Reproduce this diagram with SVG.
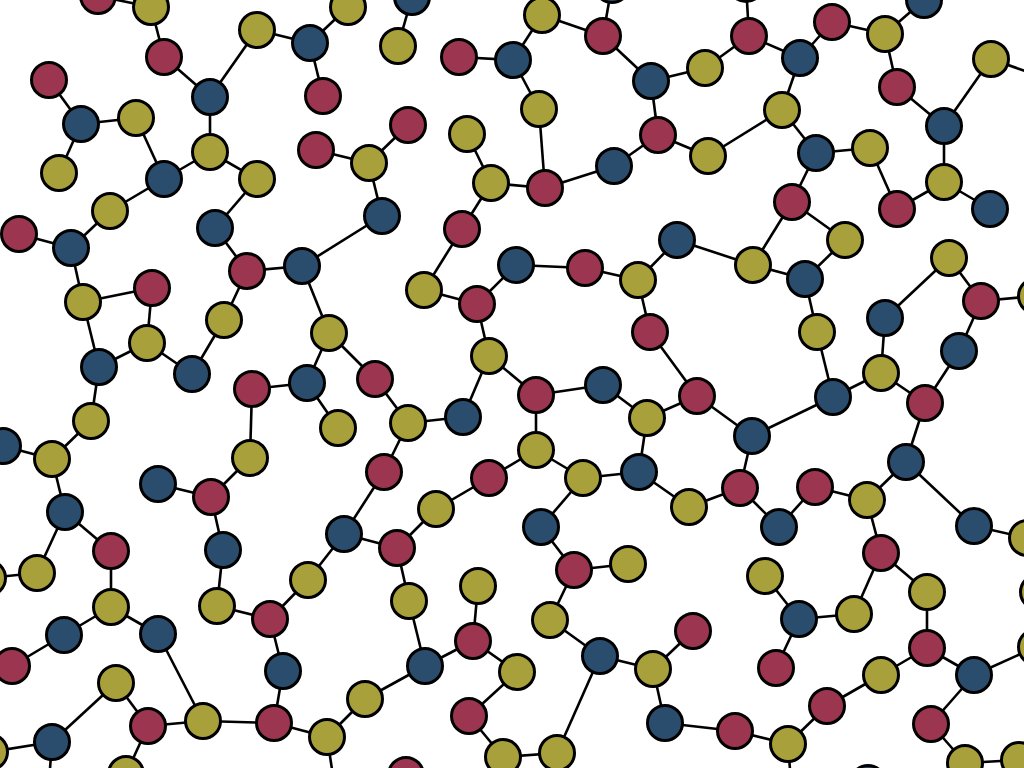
<svg xmlns="http://www.w3.org/2000/svg" width="1024" height="768" viewBox="0 0 1024 768">
<style>
.e line{stroke:#000;stroke-width:2.6;fill:none}
circle{r:17.5px;stroke:#000;stroke-width:3}
.r circle{fill:#9B3550}
.y circle{fill:#A8A03A}
.b circle{fill:#2A4D6E}
</style>
<rect width="1024" height="768" fill="#fff"/>
<g id="connectors" class="e">
<line x1="98" y1="-4" x2="151" y2="7"/><line x1="151" y1="7" x2="164" y2="57"/><line x1="164" y1="57" x2="210" y2="97"/><line x1="210" y1="97" x2="257" y2="30"/><line x1="210" y1="97" x2="210" y2="152"/>
<line x1="49" y1="80" x2="81" y2="124"/><line x1="81" y1="124" x2="136" y2="118"/><line x1="81" y1="124" x2="59" y2="173"/><line x1="136" y1="118" x2="164" y2="179"/><line x1="164" y1="179" x2="210" y2="152"/><line x1="210" y1="152" x2="257" y2="179"/><line x1="164" y1="179" x2="110" y2="211"/><line x1="110" y1="211" x2="71" y2="248"/><line x1="19" y1="234" x2="71" y2="248"/><line x1="257" y1="179" x2="215" y2="228"/><line x1="215" y1="228" x2="247" y2="271"/>
<line x1="257" y1="30" x2="310" y2="43"/><line x1="310" y1="43" x2="348" y2="7"/><line x1="310" y1="43" x2="323" y2="96"/><line x1="412" y1="-3" x2="398" y2="46"/><line x1="459" y1="57" x2="513" y2="60"/><line x1="316" y1="150" x2="369" y2="163"/><line x1="369" y1="163" x2="408" y2="125"/><line x1="369" y1="163" x2="382" y2="216"/><line x1="382" y1="216" x2="302" y2="266"/><line x1="467" y1="134" x2="491" y2="183"/><line x1="491" y1="183" x2="462" y2="229"/><line x1="462" y1="229" x2="424" y2="290"/>
<line x1="542" y1="15" x2="603" y2="36"/><line x1="603" y1="36" x2="612" y2="-15"/><line x1="542" y1="15" x2="513" y2="60"/><line x1="603" y1="36" x2="651" y2="81"/><line x1="513" y1="60" x2="539" y2="109"/><line x1="539" y1="109" x2="545" y2="188"/><line x1="545" y1="188" x2="491" y2="183"/><line x1="545" y1="188" x2="614" y2="166"/><line x1="614" y1="166" x2="658" y2="135"/><line x1="651" y1="81" x2="658" y2="135"/><line x1="651" y1="81" x2="705" y2="68"/><line x1="705" y1="68" x2="749" y2="36"/><line x1="749" y1="36" x2="746" y2="-16"/><line x1="658" y1="135" x2="708" y2="156"/><line x1="708" y1="156" x2="782" y2="110"/><line x1="677" y1="240" x2="753" y2="265"/><line x1="753" y1="265" x2="792" y2="202"/>
<line x1="749" y1="36" x2="800" y2="58"/><line x1="800" y1="58" x2="832" y2="22"/><line x1="832" y1="22" x2="885" y2="34"/><line x1="885" y1="34" x2="924" y2="0"/><line x1="885" y1="34" x2="897" y2="87"/><line x1="800" y1="58" x2="782" y2="110"/><line x1="897" y1="87" x2="944" y2="126"/><line x1="944" y1="126" x2="991" y2="59"/><line x1="991" y1="59" x2="1045" y2="78"/><line x1="782" y1="110" x2="816" y2="153"/><line x1="816" y1="153" x2="870" y2="148"/><line x1="870" y1="148" x2="897" y2="209"/><line x1="944" y1="126" x2="944" y2="182"/><line x1="944" y1="182" x2="897" y2="209"/><line x1="944" y1="182" x2="990" y2="209"/><line x1="816" y1="153" x2="792" y2="202"/><line x1="792" y1="202" x2="845" y2="240"/>
<line x1="71" y1="248" x2="83" y2="302"/><line x1="83" y1="302" x2="152" y2="288"/><line x1="152" y1="288" x2="147" y2="343"/><line x1="83" y1="302" x2="99" y2="367"/><line x1="99" y1="367" x2="147" y2="343"/><line x1="147" y1="343" x2="192" y2="374"/><line x1="192" y1="374" x2="224" y2="320"/><line x1="224" y1="320" x2="247" y2="271"/><line x1="99" y1="367" x2="91" y2="421"/><line x1="91" y1="421" x2="52" y2="459"/><line x1="3" y1="446" x2="52" y2="459"/><line x1="52" y1="459" x2="65" y2="512"/><line x1="252" y1="389" x2="250" y2="458"/><line x1="250" y1="458" x2="211" y2="497"/><line x1="158" y1="484" x2="211" y2="497"/>
<line x1="247" y1="271" x2="302" y2="266"/><line x1="302" y1="266" x2="329" y2="333"/><line x1="329" y1="333" x2="307" y2="383"/><line x1="329" y1="333" x2="375" y2="379"/><line x1="252" y1="389" x2="307" y2="383"/><line x1="307" y1="383" x2="338" y2="428"/><line x1="375" y1="379" x2="408" y2="423"/><line x1="408" y1="423" x2="463" y2="417"/><line x1="408" y1="423" x2="384" y2="472"/><line x1="384" y1="472" x2="344" y2="534"/><line x1="424" y1="290" x2="477" y2="304"/><line x1="477" y1="304" x2="516" y2="265"/><line x1="477" y1="304" x2="489" y2="356"/><line x1="489" y1="356" x2="463" y2="417"/><line x1="489" y1="356" x2="536" y2="395"/><line x1="489" y1="478" x2="436" y2="509"/>
<line x1="516" y1="265" x2="585" y2="268"/><line x1="585" y1="268" x2="638" y2="280"/><line x1="638" y1="280" x2="677" y2="240"/><line x1="638" y1="280" x2="650" y2="332"/><line x1="650" y1="332" x2="697" y2="396"/><line x1="536" y1="395" x2="603" y2="385"/><line x1="603" y1="385" x2="647" y2="418"/><line x1="647" y1="418" x2="697" y2="396"/><line x1="697" y1="396" x2="752" y2="436"/><line x1="536" y1="395" x2="536" y2="450"/><line x1="536" y1="450" x2="583" y2="478"/><line x1="536" y1="450" x2="489" y2="478"/><line x1="583" y1="478" x2="639" y2="472"/><line x1="647" y1="418" x2="639" y2="472"/><line x1="639" y1="472" x2="689" y2="507"/><line x1="689" y1="507" x2="740" y2="488"/><line x1="752" y1="436" x2="740" y2="488"/><line x1="740" y1="488" x2="779" y2="527"/><line x1="583" y1="478" x2="541" y2="527"/>
<line x1="753" y1="265" x2="805" y2="279"/><line x1="805" y1="279" x2="845" y2="240"/><line x1="805" y1="279" x2="817" y2="332"/><line x1="817" y1="332" x2="833" y2="397"/><line x1="833" y1="397" x2="752" y2="436"/><line x1="833" y1="397" x2="881" y2="373"/><line x1="885" y1="318" x2="881" y2="373"/><line x1="881" y1="373" x2="925" y2="403"/><line x1="885" y1="318" x2="949" y2="258"/><line x1="949" y1="258" x2="981" y2="301"/><line x1="981" y1="301" x2="1036" y2="296"/><line x1="981" y1="301" x2="959" y2="351"/><line x1="959" y1="351" x2="925" y2="403"/><line x1="925" y1="403" x2="906" y2="462"/><line x1="906" y1="462" x2="867" y2="500"/><line x1="815" y1="487" x2="867" y2="500"/><line x1="906" y1="462" x2="974" y2="526"/><line x1="815" y1="487" x2="779" y2="527"/>
<line x1="65" y1="512" x2="37" y2="573"/><line x1="65" y1="512" x2="111" y2="551"/><line x1="37" y1="573" x2="-12" y2="578"/><line x1="111" y1="551" x2="111" y2="607"/><line x1="111" y1="607" x2="64" y2="635"/><line x1="111" y1="607" x2="158" y2="634"/><line x1="64" y1="635" x2="12" y2="666"/><line x1="158" y1="634" x2="203" y2="721"/><line x1="116" y1="683" x2="52" y2="742"/><line x1="116" y1="683" x2="148" y2="726"/><line x1="148" y1="726" x2="203" y2="721"/><line x1="148" y1="726" x2="126" y2="774"/><line x1="211" y1="497" x2="223" y2="550"/><line x1="223" y1="550" x2="217" y2="606"/><line x1="217" y1="606" x2="270" y2="619"/><line x1="203" y1="721" x2="274" y2="723"/><line x1="52" y1="742" x2="-10" y2="752"/><line x1="52" y1="742" x2="48" y2="795"/>
<line x1="344" y1="534" x2="397" y2="548"/><line x1="397" y1="548" x2="436" y2="509"/><line x1="344" y1="534" x2="308" y2="580"/><line x1="308" y1="580" x2="270" y2="619"/><line x1="270" y1="619" x2="283" y2="671"/><line x1="283" y1="671" x2="274" y2="723"/><line x1="274" y1="723" x2="327" y2="737"/><line x1="327" y1="737" x2="365" y2="699"/><line x1="365" y1="699" x2="425" y2="666"/><line x1="397" y1="548" x2="409" y2="601"/><line x1="409" y1="601" x2="425" y2="666"/><line x1="425" y1="666" x2="473" y2="641"/><line x1="478" y1="586" x2="473" y2="641"/><line x1="473" y1="641" x2="517" y2="672"/><line x1="517" y1="672" x2="469" y2="716"/><line x1="469" y1="716" x2="503" y2="757"/><line x1="327" y1="737" x2="336" y2="795"/>
<line x1="541" y1="527" x2="574" y2="570"/><line x1="574" y1="570" x2="628" y2="564"/><line x1="574" y1="570" x2="550" y2="620"/><line x1="550" y1="620" x2="600" y2="656"/><line x1="600" y1="656" x2="653" y2="669"/><line x1="653" y1="669" x2="693" y2="631"/><line x1="653" y1="669" x2="665" y2="723"/><line x1="665" y1="723" x2="735" y2="731"/><line x1="735" y1="731" x2="788" y2="744"/><line x1="600" y1="656" x2="557" y2="753"/><line x1="557" y1="753" x2="503" y2="757"/>
<line x1="867" y1="500" x2="881" y2="553"/><line x1="881" y1="553" x2="854" y2="614"/><line x1="881" y1="553" x2="927" y2="592"/><line x1="927" y1="592" x2="927" y2="648"/><line x1="927" y1="648" x2="881" y2="675"/><line x1="881" y1="675" x2="827" y2="706"/><line x1="827" y1="706" x2="788" y2="744"/><line x1="927" y1="648" x2="974" y2="675"/><line x1="974" y1="675" x2="1036" y2="647"/><line x1="974" y1="675" x2="931" y2="724"/><line x1="931" y1="724" x2="965" y2="763"/><line x1="965" y1="763" x2="1019" y2="760"/><line x1="765" y1="576" x2="799" y2="619"/><line x1="799" y1="619" x2="854" y2="614"/><line x1="799" y1="619" x2="776" y2="668"/><line x1="974" y1="526" x2="1027" y2="538"/><line x1="788" y1="744" x2="792" y2="795"/>
</g>
<g id="n1" class="r"><circle cx="98" cy="-4"/></g>
<g id="n2" class="y"><circle cx="151" cy="7"/></g>
<g id="n3" class="r"><circle cx="164" cy="57"/></g>
<g id="n4" class="b"><circle cx="210" cy="97"/></g>
<g id="n5" class="y"><circle cx="257" cy="30"/></g>
<g id="n6" class="r"><circle cx="49" cy="80"/></g>
<g id="n7" class="b"><circle cx="81" cy="124"/></g>
<g id="n8" class="y"><circle cx="136" cy="118"/></g>
<g id="n9" class="y"><circle cx="59" cy="173"/></g>
<g id="n10" class="b"><circle cx="164" cy="179"/></g>
<g id="n11" class="y"><circle cx="210" cy="152"/></g>
<g id="n12" class="y"><circle cx="257" cy="179"/></g>
<g id="n13" class="y"><circle cx="110" cy="211"/></g>
<g id="n14" class="r"><circle cx="19" cy="234"/></g>
<g id="n15" class="b"><circle cx="71" cy="248"/></g>
<g id="n16" class="b"><circle cx="215" cy="228"/></g>
<g id="n17" class="b"><circle cx="310" cy="43"/></g>
<g id="n18" class="y"><circle cx="348" cy="7"/></g>
<g id="n19" class="r"><circle cx="323" cy="96"/></g>
<g id="n20" class="b"><circle cx="412" cy="-3"/></g>
<g id="n21" class="y"><circle cx="398" cy="46"/></g>
<g id="n22" class="r"><circle cx="459" cy="57"/></g>
<g id="n23" class="b"><circle cx="513" cy="60"/></g>
<g id="n24" class="r"><circle cx="408" cy="125"/></g>
<g id="n25" class="r"><circle cx="316" cy="150"/></g>
<g id="n26" class="y"><circle cx="369" cy="163"/></g>
<g id="n27" class="b"><circle cx="382" cy="216"/></g>
<g id="n28" class="y"><circle cx="467" cy="134"/></g>
<g id="n29" class="y"><circle cx="491" cy="183"/></g>
<g id="n30" class="r"><circle cx="462" cy="229"/></g>
<g id="n31" class="b"><circle cx="302" cy="266"/></g>
<g id="n32" class="y"><circle cx="542" cy="15"/></g>
<g id="n33" class="r"><circle cx="603" cy="36"/></g>
<g id="n34" class="b"><circle cx="612" cy="-15"/></g>
<g id="n35" class="y"><circle cx="539" cy="109"/></g>
<g id="n36" class="r"><circle cx="545" cy="188"/></g>
<g id="n37" class="b"><circle cx="651" cy="81"/></g>
<g id="n38" class="r"><circle cx="658" cy="135"/></g>
<g id="n39" class="b"><circle cx="614" cy="166"/></g>
<g id="n40" class="y"><circle cx="705" cy="68"/></g>
<g id="n41" class="r"><circle cx="749" cy="36"/></g>
<g id="n42" class="b"><circle cx="746" cy="-16"/></g>
<g id="n43" class="y"><circle cx="708" cy="156"/></g>
<g id="n44" class="y"><circle cx="782" cy="110"/></g>
<g id="n45" class="b"><circle cx="677" cy="240"/></g>
<g id="n46" class="y"><circle cx="753" cy="265"/></g>
<g id="n47" class="r"><circle cx="832" cy="22"/></g>
<g id="n48" class="y"><circle cx="885" cy="34"/></g>
<g id="n49" class="b"><circle cx="924" cy="0"/></g>
<g id="n50" class="b"><circle cx="800" cy="58"/></g>
<g id="n51" class="r"><circle cx="897" cy="87"/></g>
<g id="n52" class="y"><circle cx="991" cy="59"/></g>
<g id="n54" class="b"><circle cx="944" cy="126"/></g>
<g id="n55" class="b"><circle cx="816" cy="153"/></g>
<g id="n56" class="y"><circle cx="870" cy="148"/></g>
<g id="n57" class="r"><circle cx="792" cy="202"/></g>
<g id="n58" class="r"><circle cx="897" cy="209"/></g>
<g id="n59" class="y"><circle cx="944" cy="182"/></g>
<g id="n60" class="b"><circle cx="990" cy="209"/></g>
<g id="n61" class="y"><circle cx="845" cy="240"/></g>
<g id="n62" class="y"><circle cx="949" cy="258"/></g>
<g id="n63" class="y"><circle cx="83" cy="302"/></g>
<g id="n64" class="r"><circle cx="152" cy="288"/></g>
<g id="n65" class="y"><circle cx="147" cy="343"/></g>
<g id="n66" class="b"><circle cx="99" cy="367"/></g>
<g id="n67" class="b"><circle cx="192" cy="374"/></g>
<g id="n68" class="y"><circle cx="224" cy="320"/></g>
<g id="n69" class="r"><circle cx="247" cy="271"/></g>
<g id="n70" class="y"><circle cx="91" cy="421"/></g>
<g id="n71" class="b"><circle cx="3" cy="446"/></g>
<g id="n72" class="y"><circle cx="52" cy="459"/></g>
<g id="n73" class="b"><circle cx="65" cy="512"/></g>
<g id="n74" class="r"><circle cx="252" cy="389"/></g>
<g id="n75" class="y"><circle cx="250" cy="458"/></g>
<g id="n76" class="b"><circle cx="158" cy="484"/></g>
<g id="n77" class="r"><circle cx="211" cy="497"/></g>
<g id="n78" class="y"><circle cx="329" cy="333"/></g>
<g id="n79" class="b"><circle cx="307" cy="383"/></g>
<g id="n80" class="y"><circle cx="338" cy="428"/></g>
<g id="n81" class="r"><circle cx="375" cy="379"/></g>
<g id="n82" class="y"><circle cx="408" cy="423"/></g>
<g id="n83" class="b"><circle cx="463" cy="417"/></g>
<g id="n84" class="r"><circle cx="384" cy="472"/></g>
<g id="n85" class="y"><circle cx="424" cy="290"/></g>
<g id="n86" class="r"><circle cx="477" cy="304"/></g>
<g id="n87" class="y"><circle cx="489" cy="356"/></g>
<g id="n88" class="b"><circle cx="516" cy="265"/></g>
<g id="n89" class="r"><circle cx="489" cy="478"/></g>
<g id="n90" class="y"><circle cx="436" cy="509"/></g>
<g id="n91" class="r"><circle cx="585" cy="268"/></g>
<g id="n92" class="y"><circle cx="638" cy="280"/></g>
<g id="n93" class="r"><circle cx="650" cy="332"/></g>
<g id="n94" class="r"><circle cx="536" cy="395"/></g>
<g id="n95" class="b"><circle cx="603" cy="385"/></g>
<g id="n96" class="y"><circle cx="647" cy="418"/></g>
<g id="n97" class="r"><circle cx="697" cy="396"/></g>
<g id="n98" class="b"><circle cx="752" cy="436"/></g>
<g id="n99" class="y"><circle cx="536" cy="450"/></g>
<g id="n100" class="y"><circle cx="583" cy="478"/></g>
<g id="n101" class="b"><circle cx="639" cy="472"/></g>
<g id="n102" class="r"><circle cx="740" cy="488"/></g>
<g id="n103" class="y"><circle cx="689" cy="507"/></g>
<g id="n104" class="b"><circle cx="541" cy="527"/></g>
<g id="n105" class="b"><circle cx="805" cy="279"/></g>
<g id="n106" class="y"><circle cx="817" cy="332"/></g>
<g id="n107" class="b"><circle cx="833" cy="397"/></g>
<g id="n108" class="b"><circle cx="885" cy="318"/></g>
<g id="n109" class="y"><circle cx="881" cy="373"/></g>
<g id="n110" class="r"><circle cx="925" cy="403"/></g>
<g id="n111" class="r"><circle cx="981" cy="301"/></g>
<g id="n112" class="y"><circle cx="1036" cy="296"/></g>
<g id="n113" class="b"><circle cx="959" cy="351"/></g>
<g id="n114" class="b"><circle cx="906" cy="462"/></g>
<g id="n115" class="r"><circle cx="815" cy="487"/></g>
<g id="n116" class="y"><circle cx="867" cy="500"/></g>
<g id="n117" class="b"><circle cx="779" cy="527"/></g>
<g id="n118" class="b"><circle cx="974" cy="526"/></g>
<g id="n119" class="y"><circle cx="37" cy="573"/></g>
<g id="n120" class="y"><circle cx="-12" cy="578"/></g>
<g id="n121" class="r"><circle cx="111" cy="551"/></g>
<g id="n122" class="y"><circle cx="111" cy="607"/></g>
<g id="n123" class="b"><circle cx="64" cy="635"/></g>
<g id="n124" class="b"><circle cx="158" cy="634"/></g>
<g id="n125" class="r"><circle cx="12" cy="666"/></g>
<g id="n126" class="y"><circle cx="116" cy="683"/></g>
<g id="n127" class="r"><circle cx="148" cy="726"/></g>
<g id="n128" class="y"><circle cx="203" cy="721"/></g>
<g id="n129" class="b"><circle cx="52" cy="742"/></g>
<g id="n130" class="y"><circle cx="126" cy="774"/></g>
<g id="n131" class="b"><circle cx="223" cy="550"/></g>
<g id="n132" class="y"><circle cx="217" cy="606"/></g>
<g id="n133" class="r"><circle cx="270" cy="619"/></g>
<g id="n134" class="y"><circle cx="-10" cy="752"/></g>
<g id="n136" class="b"><circle cx="344" cy="534"/></g>
<g id="n137" class="r"><circle cx="397" cy="548"/></g>
<g id="n138" class="y"><circle cx="308" cy="580"/></g>
<g id="n139" class="y"><circle cx="409" cy="601"/></g>
<g id="n140" class="y"><circle cx="478" cy="586"/></g>
<g id="n141" class="r"><circle cx="473" cy="641"/></g>
<g id="n142" class="b"><circle cx="425" cy="666"/></g>
<g id="n143" class="b"><circle cx="283" cy="671"/></g>
<g id="n144" class="y"><circle cx="365" cy="699"/></g>
<g id="n145" class="r"><circle cx="274" cy="723"/></g>
<g id="n146" class="y"><circle cx="327" cy="737"/></g>
<g id="n147" class="y"><circle cx="517" cy="672"/></g>
<g id="n148" class="r"><circle cx="469" cy="716"/></g>
<g id="n149" class="y"><circle cx="503" cy="757"/></g>
<g id="n150" class="r"><circle cx="406" cy="775"/></g>
<g id="n152" class="r"><circle cx="574" cy="570"/></g>
<g id="n153" class="y"><circle cx="628" cy="564"/></g>
<g id="n154" class="y"><circle cx="550" cy="620"/></g>
<g id="n155" class="b"><circle cx="600" cy="656"/></g>
<g id="n156" class="y"><circle cx="653" cy="669"/></g>
<g id="n157" class="r"><circle cx="693" cy="631"/></g>
<g id="n158" class="b"><circle cx="665" cy="723"/></g>
<g id="n159" class="r"><circle cx="735" cy="731"/></g>
<g id="n160" class="y"><circle cx="557" cy="753"/></g>
<g id="n161" class="y"><circle cx="765" cy="576"/></g>
<g id="n162" class="r"><circle cx="776" cy="668"/></g>
<g id="n163" class="b"><circle cx="799" cy="619"/></g>
<g id="n164" class="r"><circle cx="881" cy="553"/></g>
<g id="n165" class="y"><circle cx="1027" cy="538"/></g>
<g id="n166" class="y"><circle cx="854" cy="614"/></g>
<g id="n167" class="y"><circle cx="927" cy="592"/></g>
<g id="n168" class="r"><circle cx="927" cy="648"/></g>
<g id="n169" class="y"><circle cx="1038" cy="592"/></g>
<g id="n170" class="y"><circle cx="1036" cy="647"/></g>
<g id="n171" class="y"><circle cx="881" cy="675"/></g>
<g id="n172" class="b"><circle cx="974" cy="675"/></g>
<g id="n173" class="r"><circle cx="827" cy="706"/></g>
<g id="n174" class="y"><circle cx="788" cy="744"/></g>
<g id="n175" class="r"><circle cx="931" cy="724"/></g>
<g id="n176" class="y"><circle cx="965" cy="763"/></g>
<g id="n177" class="y"><circle cx="1019" cy="760"/></g>
<g id="n178" class="b"><circle cx="868" cy="783"/></g>
</svg>
